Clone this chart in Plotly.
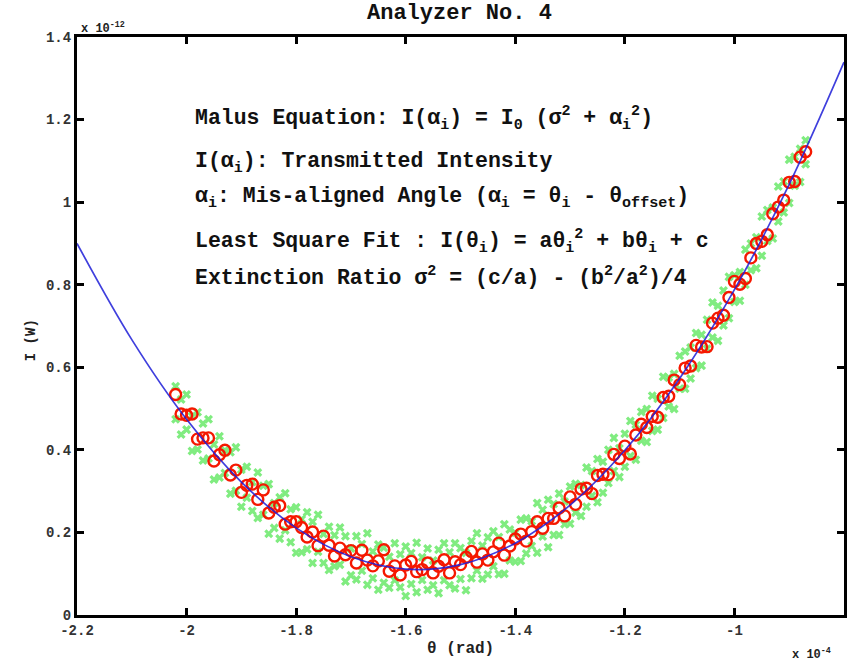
import plotly.graph_objects as go

# theta in units of 1e-4 rad, intensity in units of 1e-12 W
theta = [-2.02, -2.01, -2.00, -1.99, -1.98, -1.97, -1.96, -1.95, -1.94, -1.93, -1.92, -1.91, -1.90,
         -1.89, -1.88, -1.87, -1.86, -1.85, -1.84, -1.83, -1.82, -1.81, -1.80,
         -1.79, -1.78, -1.77, -1.76, -1.75, -1.74, -1.73, -1.72, -1.71, -1.70,
         -1.69, -1.68, -1.67, -1.66, -1.65, -1.64, -1.63, -1.62, -1.61, -1.60,
         -1.59, -1.58, -1.57, -1.56, -1.55, -1.54, -1.53, -1.52, -1.51, -1.50,
         -1.49, -1.48, -1.47, -1.46, -1.45, -1.44, -1.43, -1.42, -1.41, -1.40,
         -1.39, -1.38, -1.37, -1.36, -1.35, -1.34, -1.33, -1.32, -1.31, -1.30,
         -1.29, -1.28, -1.27, -1.26, -1.25, -1.24, -1.23, -1.22, -1.21, -1.20,
         -1.19, -1.18, -1.17, -1.16, -1.15, -1.14, -1.13, -1.12, -1.11, -1.10,
         -1.09, -1.08, -1.07, -1.06, -1.05, -1.04, -1.03, -1.02, -1.01, -1.00,
         -0.99, -0.98, -0.97, -0.96, -0.95, -0.94, -0.93, -0.92, -0.91, -0.90,
         -0.89, -0.88, -0.87]

intensity_avg = [0.534, 0.487, 0.484, 0.487, 0.426, 0.429, 0.429, 0.373, 0.388, 0.399, 0.339, 0.351, 0.297,
                 0.314, 0.317, 0.280, 0.303, 0.247, 0.261, 0.265, 0.220, 0.226, 0.226,
                 0.212, 0.189, 0.201, 0.168, 0.191, 0.169, 0.143, 0.162, 0.146, 0.156,
                 0.126, 0.157, 0.133, 0.119, 0.131, 0.158, 0.106, 0.119, 0.097, 0.121,
                 0.130, 0.105, 0.110, 0.126, 0.102, 0.118, 0.134, 0.102, 0.129, 0.122,
                 0.140, 0.154, 0.128, 0.148, 0.133, 0.153, 0.174, 0.145, 0.167, 0.184,
                 0.196, 0.179, 0.202, 0.226, 0.210, 0.234, 0.234, 0.259, 0.240, 0.286,
                 0.268, 0.305, 0.307, 0.294, 0.338, 0.341, 0.340, 0.389, 0.379, 0.409,
                 0.390, 0.436, 0.462, 0.454, 0.481, 0.479, 0.527, 0.530, 0.569, 0.558,
                 0.598, 0.603, 0.653, 0.649, 0.650, 0.707, 0.719, 0.726, 0.769, 0.808,
                 0.801, 0.815, 0.865, 0.900, 0.905, 0.921, 0.972, 0.988, 1.005, 1.048,
                 1.050, 1.109, 1.122]

intensity_raw_hi = [0.554, 0.522, 0.534, 0.482, 0.491, 0.464, 0.474, 0.413, 0.433, 0.399, 0.394, 0.406, 0.352,
                    0.359, 0.322, 0.345, 0.313, 0.317, 0.271, 0.285, 0.295, 0.256, 0.261,
                    0.232, 0.249, 0.226, 0.243, 0.196, 0.214, 0.193, 0.212, 0.191, 0.161,
                    0.191, 0.172, 0.198, 0.154, 0.171, 0.163, 0.141, 0.174, 0.147, 0.166,
                    0.150, 0.175, 0.140, 0.161, 0.132, 0.158, 0.174, 0.152, 0.174, 0.162,
                    0.150, 0.179, 0.198, 0.168, 0.188, 0.203, 0.189, 0.220, 0.207, 0.199,
                    0.231, 0.234, 0.227, 0.271, 0.255, 0.279, 0.269, 0.294, 0.275, 0.311,
                    0.318, 0.315, 0.357, 0.349, 0.378, 0.371, 0.400, 0.429, 0.404, 0.439,
                    0.470, 0.461, 0.492, 0.499, 0.531, 0.524, 0.577, 0.575, 0.584, 0.628,
                    0.638, 0.648, 0.683, 0.679, 0.715, 0.757, 0.749, 0.786, 0.819, 0.823,
                    0.831, 0.885, 0.900, 0.915, 0.965, 0.981, 0.987, 1.038, 1.050, 1.103,
                    1.110, 1.129, 1.150]

intensity_raw_lo = [0.474, 0.437, 0.449, 0.397, 0.401, 0.374, 0.379, 0.328, 0.333, 0.344, 0.294, 0.301, 0.262,
                    0.284, 0.252, 0.235, 0.243, 0.197, 0.211, 0.185, 0.205, 0.176, 0.151,
                    0.152, 0.159, 0.126, 0.153, 0.126, 0.109, 0.118, 0.122, 0.081, 0.096,
                    0.086, 0.107, 0.073, 0.089, 0.061, 0.078, 0.066, 0.084, 0.067, 0.046,
                    0.075, 0.055, 0.085, 0.061, 0.072, 0.053, 0.084, 0.072, 0.064, 0.087,
                    0.060, 0.089, 0.108, 0.088, 0.098, 0.118, 0.099, 0.100, 0.132, 0.129,
                    0.131, 0.149, 0.167, 0.151, 0.190, 0.164, 0.194, 0.194, 0.220, 0.221,
                    0.248, 0.240, 0.262, 0.289, 0.273, 0.296, 0.320, 0.349, 0.334, 0.359,
                    0.385, 0.376, 0.422, 0.419, 0.446, 0.449, 0.477, 0.505, 0.499, 0.548,
                    0.548, 0.573, 0.598, 0.604, 0.645, 0.672, 0.664, 0.701, 0.719, 0.758,
                    0.761, 0.800, 0.835, 0.840, 0.870, 0.906, 0.912, 0.953, 0.975, 0.998,
                    1.040, 1.049, 1.092]

fit_theta = [-2.2, -2.1, -2.0, -1.9, -1.8, -1.7, -1.6, -1.5, -1.4, -1.3, -1.2, -1.1, -1.0, -0.9, -0.8]
fit_intensity = [0.900, 0.667, 0.474, 0.322, 0.211, 0.141, 0.111, 0.122, 0.174, 0.266, 0.399, 0.573, 0.788, 1.043, 1.339]

x_tickvals = [-2.2, -2.0, -1.8, -1.6, -1.4, -1.2, -1.0]
x_ticktext = ["-2.2", "-2", "-1.8", "-1.6", "-1.4", "-1.2", "-1"]
y_tickvals = [0, 0.2, 0.4, 0.6, 0.8, 1.0, 1.2, 1.4]
y_ticktext = ["0", "0.2", "0.4", "0.6", "0.8", "1", "1.2", "1.4"]

FONT = "Liberation Mono, Courier New, monospace"

# plot area in pixels
L, R, T, B = 77, 847, 37, 615
W, H = 854, 661


def px(xp):
    return (xp - L) / (R - L)


def py(yp):
    return (B - yp) / (B - T)


fig = go.Figure()
fig.add_trace(go.Scatter(x=theta, y=intensity_raw_hi, mode="markers",
                         marker=dict(symbol="x", size=8, color="#80EC80", line=dict(width=0))))
fig.add_trace(go.Scatter(x=theta, y=intensity_raw_lo, mode="markers",
                         marker=dict(symbol="x", size=8, color="#80EC80", line=dict(width=0))))
fig.add_trace(go.Scatter(x=theta, y=intensity_avg, mode="markers",
                         marker=dict(symbol="circle-open", size=11, color="#F51800", line=dict(width=2.4))))
fig.add_trace(go.Scatter(x=fit_theta, y=fit_intensity, mode="lines", line_shape="spline",
                         line=dict(color="#1E1ED8", width=1.7), opacity=0.85))

axis_common = dict(showline=True, linecolor="black", linewidth=3, mirror="ticks",
                   ticks="inside", ticklen=7, tickwidth=3, tickcolor="black",
                   showgrid=False, zeroline=False,
                   tickfont=dict(family=FONT, size=14, color="#333", weight="bold"))

fig.update_xaxes(range=[-2.2, -0.8], tickvals=x_tickvals, ticktext=x_ticktext, **axis_common)
fig.update_yaxes(range=[0, 1.4], tickvals=y_tickvals, ticktext=y_ticktext, **axis_common)

lines = [
    (118, "Malus Equation: I(α<sub>i</sub>) = I<sub>0</sub> (σ<sup>2</sup> + α<sub>i</sub><sup>2</sup>)"),
    (163, "I(α<sub>i</sub>): Transmitted Intensity"),
    (198, "α<sub>i</sub>: Mis-aligned Angle (α<sub>i</sub> = θ<sub>i</sub> - θ<sub>offset</sub>)"),
    (241, "Least Square Fit : I(θ<sub>i</sub>) = aθ<sub>i</sub><sup>2</sup> + bθ<sub>i</sub> + c"),
    (276, "Extinction Ratio σ<sup>2</sup> = (c/a) - (b<sup>2</sup>/a<sup>2</sup>)/4"),
]
for ypix, txt in lines:
    fig.add_annotation(x=px(193), y=py(ypix), xref="paper", yref="paper",
                       text=txt, showarrow=False, xanchor="left", yanchor="middle",
                       font=dict(family=FONT, size=21.5, color="#111", weight="bold"))

# title
fig.add_annotation(x=px(461), y=py(14), xref="paper", yref="paper", showarrow=False,
                   xanchor="center", yanchor="middle", text="Analyzer No. 4",
                   font=dict(family=FONT, size=22, color="#111", weight="bold"))
# axis titles
fig.add_annotation(x=px(462), y=py(649), xref="paper", yref="paper", showarrow=False,
                   xanchor="center", yanchor="middle", text="θ (rad)",
                   font=dict(family=FONT, size=16, color="#222", weight="bold"))
fig.add_annotation(x=px(31), y=py(340), xref="paper", yref="paper", showarrow=False,
                   xanchor="center", yanchor="middle", text="I (W)", textangle=-90,
                   font=dict(family=FONT, size=14, color="#222", weight="bold"))
# axis exponent labels
fig.add_annotation(x=px(79), y=py(28), xref="paper", yref="paper", showarrow=False,
                   xanchor="left", yanchor="middle", text="x 10<sup>-12</sup>",
                   font=dict(family=FONT, size=12, color="#222", weight="bold"))
fig.add_annotation(x=px(836), y=py(654), xref="paper", yref="paper", showarrow=False,
                   xanchor="right", yanchor="middle", text="x 10<sup>-4</sup>",
                   font=dict(family=FONT, size=12, color="#222", weight="bold"))

fig.update_layout(
    width=W, height=H,
    margin=dict(l=L, r=W - R, t=T, b=H - B),
    paper_bgcolor="white", plot_bgcolor="white",
    showlegend=False,
)

fig.write_html("out.html", config={"displayModeBar": False},
               post_script="document.body.style.margin='0';document.body.style.padding='0';")
